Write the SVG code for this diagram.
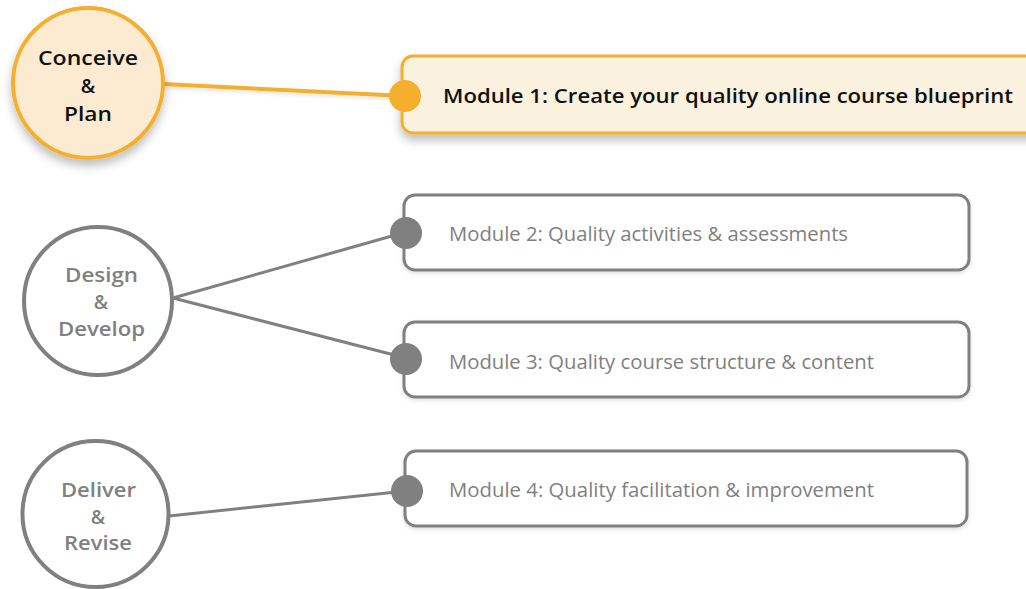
<svg xmlns="http://www.w3.org/2000/svg" width="1026" height="589" viewBox="0 0 1026 589">
<defs>
<filter id="sh" x="-20%" y="-20%" width="140%" height="160%">
<feDropShadow dx="0" dy="6" stdDeviation="5" flood-color="#000" flood-opacity="0.25"/>
</filter>
<filter id="sh2" x="-20%" y="-20%" width="140%" height="160%">
<feDropShadow dx="0" dy="2" stdDeviation="2" flood-color="#000" flood-opacity="0.12"/>
</filter>
</defs>
<style>
.t{font-family:"Open Sans","Noto Sans",sans-serif;}
.ph{fill:#FCEBD1;stroke:#F4AF2D;stroke-width:4;}
.pg{fill:#fff;stroke:#808080;stroke-width:4;}
.bh{fill:#FAF1DF;stroke:#F4AF2D;stroke-width:3;}
.bg{fill:#fff;stroke:#808080;stroke-width:3;}
.ct{font-size:19.5px;font-weight:600;text-anchor:middle;}
.mt{font-size:19.5px;fill:#808080;}
.lh{stroke:#F4AF2D;stroke-width:4;fill:none;}
.lg{stroke:#808080;stroke-width:3;fill:none;}
</style>
<g id="connectors">
<line class="lh" x1="163" y1="84" x2="405" y2="96" filter="url(#sh2)"/>
<line class="lg" x1="173" y1="298" x2="406" y2="232"/>
<line class="lg" x1="173" y1="298" x2="406" y2="358"/>
<line class="lg" x1="169" y1="516" x2="406" y2="491"/>
</g>
<g id="phase1">
<circle class="ph" cx="88" cy="83" r="75" filter="url(#sh)"/>
<text class="t ct" fill="#111" x="88" y="65" textLength="100" lengthAdjust="spacingAndGlyphs">Conceive</text>
<text class="t ct" fill="#111" x="88" y="93">&amp;</text>
<text class="t ct" fill="#111" x="88" y="121" textLength="48" lengthAdjust="spacingAndGlyphs">Plan</text>
</g>
<g id="phase2">
<circle class="pg" cx="98" cy="301" r="74"/>
<text class="t ct" fill="#808080" x="101.5" y="282" textLength="73" lengthAdjust="spacingAndGlyphs">Design</text>
<text class="t ct" fill="#808080" x="101" y="309">&amp;</text>
<text class="t ct" fill="#808080" x="101.5" y="336" textLength="87" lengthAdjust="spacingAndGlyphs">Develop</text>
</g>
<g id="phase3">
<circle class="pg" cx="95.5" cy="514" r="73"/>
<text class="t ct" fill="#808080" x="98.5" y="497" textLength="75" lengthAdjust="spacingAndGlyphs">Deliver</text>
<text class="t ct" fill="#808080" x="98" y="524">&amp;</text>
<text class="t ct" fill="#808080" x="98" y="550" textLength="68" lengthAdjust="spacingAndGlyphs">Revise</text>
</g>
<g id="module1">
<rect class="bh" x="402" y="56" width="640" height="77" rx="11" filter="url(#sh)"/>
<circle cx="405" cy="96" r="16" fill="#F4AF2D"/>
<text class="t" x="443" y="103" font-size="20.5" font-weight="600" fill="#111" textLength="570" lengthAdjust="spacingAndGlyphs">Module 1: Create your quality online course blueprint</text>
</g>
<g id="module2">
<rect class="bg" x="404" y="195" width="565" height="75" rx="11" filter="url(#sh2)"/>
<circle cx="406" cy="233" r="16" fill="#808080"/>
<text class="t mt" x="449" y="241" textLength="399" lengthAdjust="spacingAndGlyphs">Module 2: Quality activities &amp; assessments</text>
</g>
<g id="module3">
<rect class="bg" x="404" y="322" width="565" height="75" rx="11" filter="url(#sh2)"/>
<circle cx="406" cy="359" r="16" fill="#808080"/>
<text class="t mt" x="449" y="369" textLength="425" lengthAdjust="spacingAndGlyphs">Module 3: Quality course structure &amp; content</text>
</g>
<g id="module4">
<rect class="bg" x="405" y="451" width="562" height="75" rx="11" filter="url(#sh2)"/>
<circle cx="407" cy="491" r="16" fill="#808080"/>
<text class="t mt" x="449" y="497" textLength="425" lengthAdjust="spacingAndGlyphs">Module 4: Quality facilitation &amp; improvement</text>
</g>
</svg>
